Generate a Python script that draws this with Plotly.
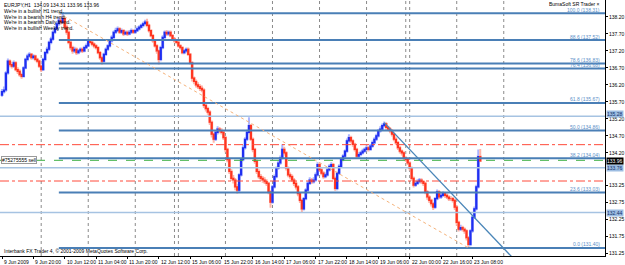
import plotly.graph_objects as go

# ---------------- data ----------------
first_open = 135.90
closes = [
    136.00, 136.05, 136.55, 136.90, 136.80, 136.75, 136.85, 136.65, 136.60, 136.50,
    136.45, 136.70, 136.95, 137.05, 137.10, 137.00, 137.05, 136.95, 136.90, 136.75,
    136.65, 136.95, 137.15, 137.25, 137.45, 137.55, 137.75, 137.85, 138.00, 138.10,
    138.05, 138.15, 137.90, 137.75, 137.45, 137.30, 137.20, 137.25, 137.15, 137.20,
    137.25, 137.20, 137.30, 137.35, 137.50, 137.45, 137.40, 137.35, 137.30, 137.15,
    137.00, 136.90, 137.10, 137.25, 137.35, 137.50, 137.60, 137.75, 137.80, 137.85,
    137.75, 137.80, 137.70, 137.75, 137.70, 137.75, 137.80, 137.75, 137.80, 137.85,
    137.90, 137.95, 138.00, 138.05, 137.95, 137.80, 137.65, 137.50, 137.35, 137.20,
    136.95, 137.30, 137.60, 137.75, 137.70, 137.75, 137.65, 137.55, 137.50, 137.45,
    137.35, 137.30, 137.15, 137.20, 137.25, 137.10, 136.85, 136.40, 136.30, 136.20,
    136.15, 136.10, 136.05, 135.60, 135.50, 135.40, 135.10, 134.75, 134.60, 134.80,
    134.90, 134.85, 134.80, 134.65, 134.30, 134.00, 133.65, 133.45, 133.40, 133.20,
    133.10, 133.55, 134.00, 134.35, 134.60, 134.80, 135.00, 134.60, 134.30, 133.95,
    133.65, 133.50, 133.45, 133.40, 133.35, 133.30, 133.05, 132.75, 133.20, 133.50,
    133.75, 133.90, 134.05, 134.30, 134.20, 133.75, 133.55, 133.50, 133.40, 133.30,
    133.20, 133.00, 132.80, 132.55, 132.85, 133.10, 133.30, 133.40, 133.35, 133.40,
    133.55, 133.85, 133.70, 133.60, 133.50, 133.55, 133.70, 133.80, 133.85, 133.45,
    133.15, 133.60, 133.80, 134.00, 134.10, 134.25, 134.55, 134.65, 134.55, 134.45,
    134.30, 134.10, 134.15, 134.20, 134.25, 134.30, 134.35, 134.30, 134.40, 134.50,
    134.60, 134.70, 134.85, 134.90, 135.00, 135.05, 134.95, 134.90, 134.85, 134.75,
    134.60, 134.50, 134.35, 134.25, 134.20, 134.05, 134.00, 133.90, 133.75, 133.45,
    133.25, 133.30, 133.35, 133.40, 133.35, 133.30, 133.05, 132.90, 132.80, 132.70,
    132.60, 132.85, 133.05, 132.90, 132.95, 133.00, 132.95, 132.90, 132.85, 132.85,
    132.80, 132.60, 132.15, 131.95, 132.00, 131.95, 131.90, 131.70, 131.50, 131.90,
    132.30, 132.55, 133.20, 134.09, 133.96,
]
highs = [
    136.08, 136.15, 136.60, 136.98, 136.95, 136.88, 136.92, 136.90, 136.72, 136.66,
    136.56, 136.75, 137.00, 137.12, 137.16, 137.14, 137.10, 137.09, 137.00, 136.94,
    136.80, 137.00, 137.20, 137.32, 137.50, 137.62, 137.80, 137.92, 138.06, 138.18,
    138.22, 138.31, 138.20, 137.98, 137.80, 137.50, 137.35, 137.32, 137.30, 137.26,
    137.30, 137.30, 137.35, 137.42, 137.56, 137.55, 137.50, 137.45, 137.40, 137.34,
    137.20, 137.05, 137.15, 137.30, 137.40, 137.55, 137.66, 137.80, 137.88, 137.92,
    137.90, 137.86, 137.84, 137.80, 137.80, 137.82, 137.86, 137.84, 137.86, 137.92,
    137.96, 138.00, 138.06, 138.12, 138.15, 138.00, 137.84, 137.70, 137.55, 137.40,
    137.24, 137.35, 137.66, 137.80, 137.82, 137.80, 137.80, 137.70, 137.60, 137.55,
    137.50, 137.40, 137.34, 137.26, 137.30, 137.30, 137.14, 136.90, 136.45, 136.36,
    136.28, 136.22, 136.18, 136.10, 135.66, 135.56, 135.45, 135.15, 134.80, 134.86,
    134.98, 134.96, 134.92, 134.85, 134.70, 134.35, 134.05, 133.72, 133.55, 133.46,
    133.28, 133.60, 134.05, 134.42, 134.66, 134.88, 135.25, 135.05, 134.65, 134.35,
    134.00, 133.72, 133.58, 133.52, 133.48, 133.42, 133.35, 133.10, 133.25, 133.56,
    133.80, 133.96, 134.12, 134.45, 134.38, 134.25, 133.80, 133.62, 133.56, 133.46,
    133.36, 133.25, 133.05, 132.85, 132.90, 133.16, 133.36, 133.48, 133.46, 133.48,
    133.62, 133.92, 133.90, 133.76, 133.66, 133.62, 133.76, 133.86, 133.92, 133.90,
    133.50, 133.65, 133.86, 134.06, 134.16, 134.30, 134.62, 134.75, 134.70, 134.60,
    134.50, 134.35, 134.22, 134.26, 134.32, 134.36, 134.42, 134.40, 134.46, 134.56,
    134.66, 134.76, 134.90, 134.98, 135.06, 135.12, 135.10, 135.00, 134.96, 134.90,
    134.80, 134.66, 134.55, 134.40, 134.30, 134.25, 134.10, 134.05, 133.95, 133.80,
    133.50, 133.38, 133.42, 133.46, 133.45, 133.40, 133.35, 133.10, 132.95, 132.85,
    132.75, 132.90, 133.12, 133.10, 133.02, 133.06, 133.04, 133.00, 132.95, 132.92,
    132.90, 132.85, 132.65, 132.20, 132.08, 132.05, 132.00, 131.95, 131.75, 131.95,
    132.36, 132.62, 133.26, 134.30, 134.31,
]
lows = [
    135.85, 135.95, 136.00, 136.50, 136.72, 136.68, 136.70, 136.60, 136.52, 136.44,
    136.38, 136.42, 136.66, 136.90, 137.00, 136.94, 136.95, 136.90, 136.84, 136.70,
    136.58, 136.62, 136.90, 137.10, 137.20, 137.40, 137.50, 137.70, 137.80, 137.94,
    137.98, 138.00, 137.85, 137.68, 137.40, 137.22, 137.12, 137.14, 137.08, 137.10,
    137.15, 137.14, 137.16, 137.26, 137.32, 137.40, 137.34, 137.28, 137.24, 137.10,
    136.94, 136.80, 136.86, 137.05, 137.20, 137.30, 137.45, 137.55, 137.70, 137.75,
    137.70, 137.70, 137.64, 137.66, 137.64, 137.66, 137.70, 137.70, 137.70, 137.76,
    137.80, 137.86, 137.90, 137.96, 137.90, 137.74, 137.60, 137.44, 137.30, 137.12,
    136.80, 136.90, 137.25, 137.55, 137.64, 137.65, 137.60, 137.50, 137.44, 137.40,
    137.30, 137.24, 137.10, 137.10, 137.15, 137.05, 136.80, 136.30, 136.22, 136.12,
    136.08, 136.02, 135.98, 135.52, 135.42, 135.32, 135.02, 134.65, 134.50, 134.55,
    134.74, 134.78, 134.74, 134.58, 134.22, 133.92, 133.58, 133.38, 133.30, 133.10,
    133.00, 133.05, 133.50, 133.95, 134.30, 134.55, 134.75, 134.55, 134.22, 133.88,
    133.58, 133.44, 133.38, 133.32, 133.28, 133.22, 132.98, 132.58, 132.70, 133.15,
    133.45, 133.70, 133.85, 134.00, 134.12, 133.68, 133.48, 133.42, 133.34, 133.22,
    133.12, 132.92, 132.72, 132.45, 132.50, 132.80, 133.05, 133.25, 133.28, 133.30,
    133.35, 133.50, 133.64, 133.54, 133.44, 133.45, 133.50, 133.65, 133.75, 133.40,
    133.08, 133.10, 133.55, 133.75, 133.95, 134.05, 134.20, 134.50, 134.48, 134.38,
    134.24, 134.04, 134.05, 134.10, 134.15, 134.20, 134.25, 134.24, 134.26, 134.35,
    134.45, 134.55, 134.65, 134.80, 134.85, 134.95, 134.88, 134.84, 134.78, 134.68,
    134.54, 134.44, 134.28, 134.18, 134.12, 133.98, 133.94, 133.84, 133.68, 133.38,
    133.18, 133.20, 133.25, 133.30, 133.28, 133.22, 132.98, 132.82, 132.72, 132.62,
    132.52, 132.55, 132.80, 132.84, 132.85, 132.90, 132.88, 132.84, 132.78, 132.78,
    132.74, 132.52, 132.05, 131.88, 131.90, 131.88, 131.82, 131.62, 131.40, 131.45,
    131.85, 132.25, 132.50, 133.15, 133.96,
]
opens = [first_open] + closes[:-1]
bars = list(range(len(closes)))

time_tick_bars = [0, 16, 32, 48, 64, 80, 96, 112, 128, 144, 160, 176, 192, 208, 224, 240]
time_tick_labels = ["9 Jun 2009", "9 Jun 20:00", "10 Jun 12:00", "11 Jun 04:00", "11 Jun 20:00",
                    "12 Jun 12:00", "15 Jun 06:00", "15 Jun 22:00", "16 Jun 14:00", "17 Jun 06:00",
                    "17 Jun 22:00", "18 Jun 14:00", "19 Jun 06:00", "22 Jun 00:00", "22 Jun 16:00",
                    "23 Jun 08:00"]
separator_bars = [20, 44, 68, 88, 90, 114, 138, 162, 186, 206, 208, 232, 256]

price_ticks = [138.20, 137.70, 137.20, 136.70, 136.20, 135.70, 135.20, 134.70, 134.20,
               133.25, 132.75, 132.25, 131.75, 131.25]

fib_high, fib_low = 138.31, 131.40
fib_bars = [29, 238]
fib_ratios = [100.0, 88.6, 78.6, 76.4, 61.8, 50.0, 38.2, 23.6, 0.0]

sr_levels = [135.28, 133.76, 132.44]
stop_levels = [134.44, 133.37]
order_price = 133.98
order_label = "#75275555 sell"
bid_price = 133.96

trend_bars = [195, 265]
trend_prices = [135.09, 130.84]

header = "EURJPY,H1  134.09 134.31 133.96 133.96"
trend_msgs = ["We're in a bullish H1 trend.", "We're in a bearish H4 trend.",
              "We're in a bearish Daily trend.", "We're in a bullish Weekly trend."]
indicator_name = "BumaSoft SR Trader ×"
copyright_txt = "Interbank FX Trader 4, © 2001-2009 MetaQuotes Software Corp."

# ---------------- figure ----------------
X_RANGE = [-1.02, 307.65]
Y_RANGE = [131.162, 138.70]
FONT = "Liberation Sans"
FIB_COL = "#4a7fb6"

fig = go.Figure()

for b in separator_bars:
    fig.add_shape(type="line", xref="x", yref="paper", x0=b, x1=b, y0=0, y1=1,
                  line=dict(color="#8a8a8a", width=1, dash="dot"), layer="below")

# candles: pale full range, strong body
fig.add_trace(go.Candlestick(x=bars, open=opens, high=highs, low=lows, close=closes,
                             whiskerwidth=0,
                             increasing=dict(line=dict(color="#aab4ff", width=2), fillcolor="#aab4ff"),
                             decreasing=dict(line=dict(color="#ffb4a8", width=2), fillcolor="#ffb4a8"),
                             hoverinfo="skip", showlegend=False))
body_hi = [max(o, c) for o, c in zip(opens, closes)]
body_lo = [min(o, c) for o, c in zip(opens, closes)]
fig.add_trace(go.Candlestick(x=bars, open=opens, high=body_hi, low=body_lo, close=closes,
                             whiskerwidth=0,
                             increasing=dict(line=dict(color="#1f2ff0", width=1.2), fillcolor="#1f2ff0"),
                             decreasing=dict(line=dict(color="#ff3520", width=1.2), fillcolor="#ff3520"),
                             hoverinfo="skip", showlegend=False))

def hline(y, x0, color, width, dash="solid"):
    fig.add_trace(go.Scatter(x=[x0, X_RANGE[1]], y=[y, y], mode="lines",
                             line=dict(color=color, width=width, dash=dash),
                             hoverinfo="skip", showlegend=False))

for p in sr_levels:
    hline(p, X_RANGE[0], "#a6c3e2", 1.5)
for p in stop_levels:
    hline(p, X_RANGE[0], "#ff4a3a", 1, "dashdot")
hline(order_price, X_RANGE[0], "#3cb043", 1, "dash")

fib_prices = [round(fib_low + r / 100.0 * (fib_high - fib_low), 2) for r in fib_ratios]
for r, p in zip(fib_ratios, fib_prices):
    hline(p, fib_bars[0], FIB_COL, 2)

fig.add_trace(go.Scatter(x=fib_bars, y=[fib_high, fib_low], mode="lines",
                         line=dict(color="#f5b27a", width=1, dash="dot"),
                         hoverinfo="skip", showlegend=False))
fig.add_trace(go.Scatter(x=trend_bars, y=trend_prices, mode="lines",
                         line=dict(color="#4a86b8", width=1.3),
                         hoverinfo="skip", showlegend=False))

ann = []
small = dict(family=FONT, size=5, color="black")
for r, p in zip(fib_ratios, fib_prices):
    ann.append(dict(x=1, xref="paper", y=p, yref="y", xanchor="right", yanchor="bottom",
                    xshift=-3, yshift=-1.5, text=f"{r:.1f} ({p:.2f})", showarrow=False,
                    font=dict(family=FONT, size=5, color="#5b8fc8")))
for b, t in zip(time_tick_bars, time_tick_labels):
    ann.append(dict(x=b, xref="x", y=0, yref="paper", xanchor="left", yanchor="top",
                    yshift=-1, text=t, showarrow=False, font=small))
ann.append(dict(x=0, xref="paper", y=1, yref="paper", xanchor="left", yanchor="middle",
                xshift=2, yshift=-5, text=header, showarrow=False, font=small))
for k, m in enumerate(trend_msgs):
    ann.append(dict(x=0, xref="paper", y=1, yref="paper", xanchor="left", yanchor="middle",
                    xshift=2, yshift=-11 - 5.6 * k, text=m, showarrow=False, font=small))
ann.append(dict(x=1, xref="paper", y=1, yref="paper", xanchor="right", yanchor="middle",
                xshift=-3, yshift=-3.5, text=indicator_name, showarrow=False, font=small))
ann.append(dict(x=0, xref="paper", y=0, yref="paper", xanchor="left", yanchor="middle",
                xshift=2, yshift=5, text=copyright_txt, showarrow=False, font=small))
ann.append(dict(x=0, xref="paper", y=order_price, yref="y", xanchor="left", yanchor="middle",
                xshift=1, text=order_label, showarrow=False, font=small,
                bgcolor="white", bordercolor="#9a9a9a", borderwidth=1, borderpad=0))
for p in sr_levels:
    ann.append(dict(x=1, xref="paper", y=p, yref="y", xanchor="left", yanchor="middle",
                    xshift=1, yshift=2.5 if p > 135 else 0, text=f"{p:.2f}", showarrow=False,
                    font=dict(family=FONT, size=5, color="#10306a"),
                    bgcolor="#9dbde2", borderpad=0))
ann.append(dict(x=1, xref="paper", y=bid_price, yref="y", xanchor="left", yanchor="middle",
                xshift=1, text=f"{bid_price:.2f}", showarrow=False,
                font=dict(family=FONT, size=5, color="white"), bgcolor="black", borderpad=0))

fig.update_layout(
    width=625, height=265, margin=dict(l=0, r=20, t=0, b=9),
    paper_bgcolor="white", plot_bgcolor="white",
    font=dict(family=FONT, size=5, color="black"),
    annotations=ann, showlegend=False,
    xaxis=dict(range=X_RANGE, rangeslider=dict(visible=False), showgrid=False, zeroline=False,
               tickvals=time_tick_bars, showticklabels=False, ticks="outside", ticklen=2,
               tickcolor="black", showline=True, linecolor="black", linewidth=1),
    yaxis=dict(range=Y_RANGE, side="right", showgrid=False, zeroline=False,
               tickvals=price_ticks, ticktext=[f"{v:.2f}" for v in price_ticks],
               ticks="outside", ticklen=2, tickcolor="black",
               tickfont=dict(family=FONT, size=5, color="black"),
               showline=True, linecolor="black", linewidth=1),
)

fig.write_html("out.html")
